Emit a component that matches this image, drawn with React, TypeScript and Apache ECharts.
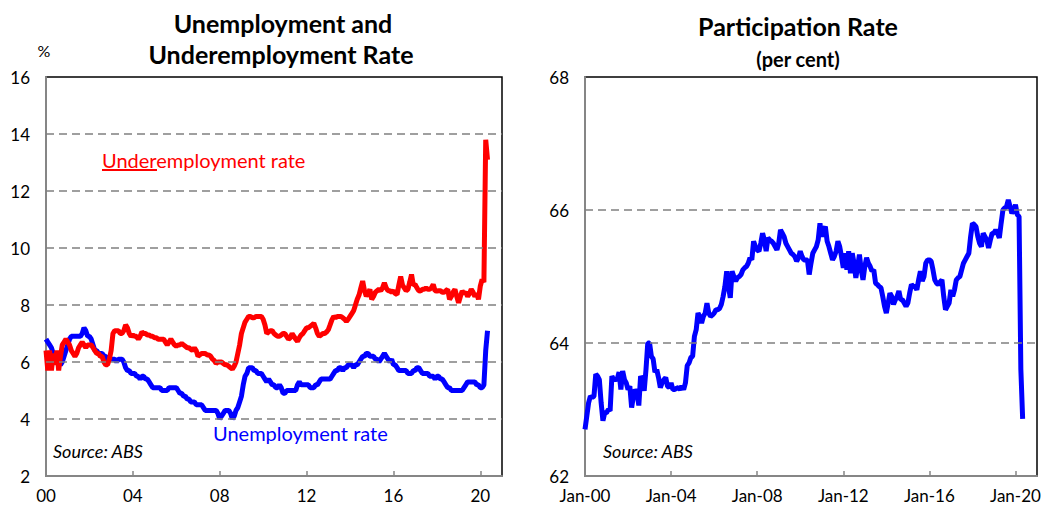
import React, { useEffect, useRef } from "react";
import * as echarts from "echarts";

// Monthly data, Jan 2000 onwards
const startYear = 2000;

const unemployment = [
  6.8, 6.7, 6.6, 6.5, 6.3, 6.2, 6.0, 6.0, 5.9, 6.0, 6.2, 6.4,
  6.6, 6.8, 6.9, 6.9, 6.9, 6.9, 6.9, 6.9, 7.0, 7.2, 7.1, 6.9,
  6.9, 6.8, 6.6, 6.4, 6.4, 6.3, 6.3, 6.3, 6.2, 6.2, 6.1, 6.1,
  6.1, 6.1, 6.1, 6.0, 6.1, 6.1, 6.1, 6.0, 5.8, 5.7, 5.7, 5.6,
  5.6, 5.6, 5.5, 5.5, 5.4, 5.5, 5.5, 5.4, 5.4, 5.3, 5.2, 5.1,
  5.1, 5.1, 5.1, 5.1, 5.0, 5.0, 5.0, 5.0, 5.1, 5.1, 5.1, 5.1,
  5.1, 5.0, 4.9, 4.9, 4.8, 4.8, 4.7, 4.7, 4.6, 4.6, 4.6, 4.5,
  4.5, 4.5, 4.5, 4.4, 4.3, 4.3, 4.3, 4.3, 4.3, 4.3, 4.3, 4.2,
  4.0, 4.1, 4.2, 4.3, 4.3, 4.3, 4.2, 4.0, 4.1, 4.3, 4.4, 4.6,
  4.8, 5.2, 5.5, 5.6, 5.8, 5.8, 5.8, 5.7, 5.7, 5.6, 5.6, 5.6,
  5.5, 5.4, 5.3, 5.4, 5.3, 5.2, 5.2, 5.1, 5.1, 5.2, 5.1, 4.9,
  4.9, 5.0, 5.0, 5.0, 5.0, 5.0, 5.0, 5.2, 5.3, 5.2, 5.2, 5.2,
  5.2, 5.2, 5.1, 5.1, 5.1, 5.2, 5.2, 5.3, 5.4, 5.4, 5.4, 5.4,
  5.4, 5.4, 5.5, 5.6, 5.7, 5.7, 5.8, 5.8, 5.7, 5.8, 5.8, 5.9,
  5.9, 5.9, 5.8, 5.9, 5.9, 6.0, 6.1, 6.2, 6.2, 6.3, 6.3, 6.2,
  6.2, 6.2, 6.1, 6.1, 6.0, 6.1, 6.2, 6.3, 6.2, 6.1, 6.0, 6.1,
  5.9, 5.9, 5.8, 5.7, 5.7, 5.7, 5.7, 5.7, 5.6, 5.6, 5.6, 5.7,
  5.7, 5.8, 5.8, 5.7, 5.6, 5.6, 5.6, 5.6, 5.5, 5.5, 5.5, 5.4,
  5.5, 5.5, 5.4, 5.4, 5.3, 5.2, 5.1, 5.1, 5.0, 5.0, 5.0, 5.0,
  5.0, 5.0, 5.0, 5.1, 5.2, 5.3, 5.3, 5.3, 5.3, 5.3, 5.2, 5.2,
  5.1, 5.1, 5.2, 6.4, 7.1,
];

const underemployment = [
  6.4, 5.7, 6.4, 5.7, 6.3, 5.9, 6.4, 5.7, 6.2, 6.6, 6.7, 6.8,
  6.7, 6.6, 6.4, 6.3, 6.2, 6.3, 6.5, 6.6, 6.7, 6.6, 6.5, 6.6,
  6.6, 6.6, 6.5, 6.4, 6.3, 6.3, 6.2, 6.2, 6.0, 5.9, 5.9, 6.1,
  6.4, 7.0, 7.1, 7.1, 7.1, 7.0, 7.0, 7.1, 7.3, 7.2, 7.0, 6.9,
  6.95, 6.9, 6.9, 6.8, 6.9, 7.05, 7.0, 7.0, 6.95, 6.95, 6.9, 6.9,
  6.85, 6.85, 6.8, 6.8, 6.8, 6.8, 6.7, 6.6, 6.7, 6.8, 6.7, 6.6,
  6.55, 6.6, 6.6, 6.65, 6.6, 6.55, 6.5, 6.5, 6.45, 6.4, 6.5, 6.4,
  6.2, 6.25, 6.3, 6.3, 6.3, 6.25, 6.25, 6.2, 6.1, 6.05, 5.95, 6.0,
  6.0, 6.0, 5.95, 5.9, 5.9, 5.85, 5.8, 5.75, 5.85, 6.0, 6.3, 6.6,
  7.0, 7.2, 7.4, 7.5, 7.6, 7.6, 7.55, 7.55, 7.6, 7.6, 7.6, 7.6,
  7.5, 7.3, 7.0, 7.05, 7.1, 7.1, 7.0, 6.95, 6.9, 6.9, 6.95, 7.0,
  7.0, 6.9, 6.8, 6.85, 7.0, 6.9, 6.8, 6.72, 6.85, 6.95, 7.0, 7.1,
  7.2, 7.2, 7.25, 7.3, 7.36, 7.2, 7.0, 6.9, 6.95, 7.0, 7.0, 7.05,
  7.13, 7.3, 7.48, 7.6, 7.55, 7.6, 7.6, 7.6, 7.55, 7.5, 7.42, 7.5,
  7.6, 7.7, 7.8, 8.0, 8.2, 8.35, 8.6, 8.84, 8.5, 8.31, 8.4, 8.55,
  8.2, 8.3, 8.45, 8.5, 8.55, 8.5, 8.6, 8.78, 8.6, 8.5, 8.5, 8.45,
  8.5, 8.4, 8.37, 8.7, 9.0, 8.7, 8.6, 8.5, 8.55, 8.8, 9.07, 8.7,
  8.72, 8.6, 8.5, 8.49, 8.55, 8.55, 8.6, 8.55, 8.55, 8.6, 8.72, 8.5,
  8.49, 8.5, 8.5, 8.45, 8.45, 8.5, 8.55, 8.2, 8.3, 8.45, 8.55, 8.3,
  8.08, 8.3, 8.49, 8.4, 8.45, 8.3, 8.4, 8.55, 8.45, 8.3, 8.4, 8.2,
  8.66, 8.9, 8.8, 13.8, 13.1,
];

const participation = [
  62.7, 62.9, 63.1, 63.2, 63.18, 63.2, 63.53, 63.5, 63.45, 63.1, 62.83, 62.95,
  62.95, 63.0, 62.98, 63.5, 63.45, 63.45, 63.46, 63.56, 63.3, 63.58, 63.45, 63.4,
  63.3, 63.35, 63.03, 63.2, 63.3, 63.25, 63.06, 63.5, 63.45, 63.28, 63.6, 64.0,
  64.0, 63.8, 63.76, 63.56, 63.6, 63.48, 63.33, 63.4, 63.45, 63.48, 63.35, 63.33,
  63.4, 63.3, 63.3, 63.32, 63.33, 63.3, 63.35, 63.3, 63.4, 63.66, 63.7, 63.78,
  63.8, 64.1, 64.2, 64.45, 64.4, 64.3, 64.4, 64.45, 64.6, 64.45, 64.4, 64.42,
  64.45, 64.5, 64.5, 64.52, 64.58, 64.7, 64.85, 65.08, 64.85, 64.68, 65.08, 65.0,
  64.93, 64.98, 65.0, 65.03, 65.1, 65.13, 65.15, 65.2, 65.28, 65.25, 65.53, 65.45,
  65.4, 65.38, 65.5, 65.65, 65.55, 65.38, 65.58, 65.55, 65.53, 65.5, 65.45, 65.4,
  65.5, 65.7, 65.65, 65.6, 65.5, 65.45, 65.4, 65.35, 65.33, 65.3, 65.23, 65.28,
  65.38, 65.3, 65.25, 65.25, 65.25, 65.03, 65.2, 65.35, 65.4, 65.45, 65.55, 65.8,
  65.6, 65.7, 65.75, 65.53, 65.45, 65.35, 65.25, 65.3, 65.38, 65.53, 65.45, 65.3,
  65.13, 65.35, 65.1, 65.38, 65.05, 65.35, 65.2, 64.98, 65.15, 65.33, 65.1, 64.95,
  65.15, 65.28, 65.2, 65.15, 65.08, 65.1, 64.9, 64.88, 64.85, 64.83, 64.7, 64.55,
  64.45, 64.6, 64.75, 64.7, 64.58, 64.65, 64.7, 64.78, 64.65, 64.65, 64.6, 64.55,
  64.6, 64.75, 64.88, 64.85, 64.85, 64.8, 64.95, 65.08, 64.93, 65.0, 65.2, 65.25,
  65.25, 65.23, 65.1, 64.95, 64.9, 64.88, 64.92, 64.95, 64.7, 64.5, 64.55, 64.6,
  64.8, 64.7, 64.8, 64.95, 64.98, 65.0, 65.1, 65.2, 65.25, 65.3, 65.35, 65.6,
  65.8, 65.78, 65.75, 65.6, 65.5, 65.45, 65.65, 65.6, 65.55, 65.43, 65.55, 65.65,
  65.65, 65.7, 65.65, 65.58, 65.8, 66.0, 66.03, 66.05, 66.15, 66.05, 65.95, 66.0,
  66.08, 65.93, 65.9, 63.6, 62.86,
];

const leftGridLines = [4, 6, 8, 10, 12, 14];
const rightGridLines = [64, 66];
const xTickYears = { min: 2000, max: 2021, interval: 4 };

const FONT = "Lato, 'Open Sans', sans-serif";

const toPairs = (arr: number[]) => arr.map((v, i) => [startYear + i / 12, v]);

const gridLineMark = (vals: number[]) => ({
  silent: true,
  symbol: ["none", "none"],
  label: { show: false },
  lineStyle: { type: [8, 5], color: "#808080", width: 1.5 },
  data: vals.map((v) => ({ yAxis: v })),
});

export default function App() {
  const ref = useRef<HTMLDivElement>(null);
  useEffect(() => {
    if (!ref.current) return;
    const chart = echarts.init(ref.current, null, { renderer: "svg" });
    const xAxisBase = (gridIndex: number, prefix: string) => ({
      type: "value",
      gridIndex,
      min: xTickYears.min,
      max: xTickYears.max,
      interval: xTickYears.interval,
      axisLine: { show: true, lineStyle: { color: "#868686", width: 2 } },
      axisTick: { show: true, inside: true, length: 5, lineStyle: { color: "#868686", width: 1.5 } },
      axisLabel: {
        show: true,
        margin: 11,
        fontSize: 17,
        color: "#000",
        fontFamily: FONT,
        showMaxLabel: false,
        formatter: (v: number) =>
          v > 2020 ? "" : prefix + String(Math.round(v) % 100).padStart(2, "0"),
      },
      splitLine: { show: false },
    });
    const yAxisBase = (gridIndex: number, min: number, max: number) => ({
      type: "value",
      gridIndex,
      min,
      max,
      interval: 2,
      axisLine: { show: true, lineStyle: { color: "#868686", width: 2 } },
      axisTick: { show: false },
      axisLabel: { margin: 16, fontSize: 17, color: "#000", fontFamily: FONT },
      splitLine: { show: false },
    });
    chart.setOption({
      animation: false,
      grid: [
        { left: 46, top: 77, width: 456, height: 399, show: true, borderColor: "#000", borderWidth: 1.5, backgroundColor: "#fff" },
        { left: 585, top: 77, width: 452, height: 399, show: true, borderColor: "#000", borderWidth: 1.5, backgroundColor: "#fff" },
      ],
      xAxis: [xAxisBase(0, ""), xAxisBase(1, "Jan-")],
      yAxis: [yAxisBase(0, 2, 16), yAxisBase(1, 62, 68)],
      series: [
        {
          type: "line",
          name: "Unemployment rate",
          xAxisIndex: 0,
          yAxisIndex: 0,
          data: toPairs(unemployment),
          showSymbol: false,
          lineStyle: { color: "#0000FF", width: 5 },
          itemStyle: { color: "#0000FF" },
          markLine: gridLineMark(leftGridLines),
          z: 3,
        },
        {
          type: "line",
          name: "Underemployment rate",
          xAxisIndex: 0,
          yAxisIndex: 0,
          data: toPairs(underemployment),
          showSymbol: false,
          lineStyle: { color: "#FF0000", width: 5 },
          itemStyle: { color: "#FF0000" },
          z: 4,
        },
        {
          type: "line",
          name: "Participation rate",
          xAxisIndex: 1,
          yAxisIndex: 1,
          data: toPairs(participation),
          showSymbol: false,
          lineStyle: { color: "#0000FF", width: 5 },
          itemStyle: { color: "#0000FF" },
          markLine: gridLineMark(rightGridLines),
          z: 3,
        },
      ],
      graphic: [
        { type: "text", x: 283, y: 23, style: { text: "Unemployment and", font: `bold 25px ${FONT}`, fill: "#000", align: "center", verticalAlign: "middle" } },
        { type: "text", x: 281, y: 54, style: { text: "Underemployment Rate", font: `bold 25px ${FONT}`, fill: "#000", align: "center", verticalAlign: "middle" } },
        { type: "text", x: 44, y: 50, style: { text: "%", font: `16px ${FONT}`, fill: "#000", align: "center", verticalAlign: "middle" } },
        { type: "text", x: 798, y: 26, style: { text: "Participation Rate", font: `bold 25px ${FONT}`, fill: "#000", align: "center", verticalAlign: "middle" } },
        { type: "text", x: 798, y: 59, style: { text: "(per cent)", font: `bold 20px ${FONT}`, fill: "#000", align: "center", verticalAlign: "middle" } },
        { type: "text", x: 102, y: 160, style: { text: "Underemployment rate", font: `20px ${FONT}`, fill: "#FF0000", align: "left", verticalAlign: "middle" } },
        { type: "line", shape: { x1: 102, y1: 170, x2: 157, y2: 170 }, style: { stroke: "#FF0000", lineWidth: 2 } },
        { type: "text", x: 213, y: 433, style: { text: "Unemployment rate", font: `20px ${FONT}`, fill: "#0000FF", align: "left", verticalAlign: "middle" } },
        { type: "text", x: 53, y: 451, style: { text: "Source: ABS", font: `italic 18px ${FONT}`, fill: "#000", align: "left", verticalAlign: "middle" } },
        { type: "text", x: 603, y: 451, style: { text: "Source: ABS", font: `italic 18px ${FONT}`, fill: "#000", align: "left", verticalAlign: "middle" } },
      ],
    });
    return () => chart.dispose();
  }, []);
  return (
    <div
      ref={ref}
      style={{ position: "fixed", left: 0, top: 0, width: 1044, height: 508, background: "#fff" }}
    />
  );
}
